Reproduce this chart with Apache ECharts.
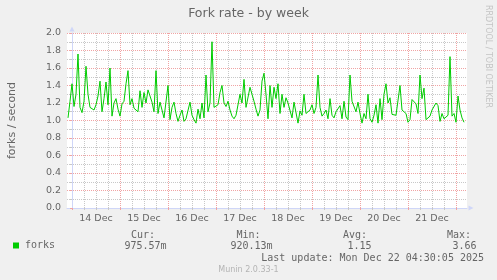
<!DOCTYPE html>
<html><head><meta charset="utf-8">
<script src="https://cdn.jsdelivr.net/npm/echarts@6/dist/echarts.min.js"></script>
<style>html,body{margin:0;padding:0;background:#f0f0f0}#c{width:497px;height:280px}</style>
</head><body><div id="c"></div>
<script>
// ---- data ----
const chartTitle = 'Fork rate - by week';
const yAxisName = 'forks / second';
const seriesName = 'forks';
// hours relative to 14 Dec 00:00 of the first hourly sample
const firstHour = -2;
const stepHours = 1;
const windowHours = 200;
const forkRate = [
  1.03,1.22,
  1.42,1.16,1.30,1.76,1.15,1.09,1.22,1.62,1.30,1.15,1.17,1.12,
  1.18,1.28,1.45,1.10,1.25,1.44,1.18,1.60,1.05,1.20,1.25,1.13,
  1.05,1.19,1.22,1.42,1.57,1.18,1.25,1.14,1.15,1.10,1.34,1.15,
  1.32,1.20,1.35,1.33,1.21,1.10,1.57,1.08,1.21,1.12,1.03,1.01,
  1.40,1.01,1.15,1.21,1.08,0.99,1.06,1.12,0.99,1.02,1.03,1.21,
  1.06,1.01,0.97,1.13,1.02,1.20,1.03,1.52,1.10,1.20,1.90,1.15,
  1.13,1.18,1.32,1.40,1.20,1.16,1.22,1.12,1.05,1.02,1.06,1.05,
  1.30,1.20,1.47,1.15,1.13,1.38,1.30,1.22,1.13,1.05,1.12,1.45,
  1.54,1.30,1.02,1.40,1.15,1.38,1.25,1.42,1.08,1.30,1.15,1.26,
  1.20,1.22,1.03,1.21,1.20,0.97,1.11,1.06,1.30,1.08,1.10,1.12,
  1.18,1.08,1.15,1.52,1.15,1.05,1.08,1.12,1.02,1.25,1.06,1.03,
  1.10,1.12,1.17,1.02,1.22,1.04,1.01,1.52,1.22,1.20,1.10,1.21,
  1.08,0.97,1.08,1.02,1.30,1.02,0.98,1.06,1.18,0.97,1.25,1.01,
  1.30,1.42,1.20,1.26,1.07,1.08,1.06,1.07,1.40,1.12,1.10,1.08,
  0.98,1.01,1.24,1.22,1.19,1.08,1.52,1.25,1.37,1.01,0.99,1.05,
  1.12,1.13,1.20,1.17,0.99,1.08,1.02,1.02,1.06,1.73,1.05,1.08,
  0.98,1.28,1.12,1.03,0.98
];
const dayLabels = ['14 Dec','15 Dec','16 Dec','17 Dec','18 Dec','19 Dec','20 Dec','21 Dec'];
const yTickValues = [0,0.2,0.4,0.6,0.8,1.0,1.2,1.4,1.6,1.8,2.0];
const statLabels = ['Cur:','Min:','Avg:','Max:'];
const statValues = ['975.57m','920.13m','1.15','3.66'];
const lastUpdate = 'Last update: Mon Dec 22 04:30:05 2025';
const footer = 'Munin 2.0.33-1';
const watermark = 'RRDTOOL / TOBI OETIKER';

// ---- derived ----
const xMin = firstHour - 0.5;
const xMax = xMin + windowHours;
const midnights = [], sixHours = [], noons = [];
for (let t = 0; t <= xMax; t += 6) {
  if (t % 24 === 0) midnights.push(t); else sixHours.push(t);
}
dayLabels.forEach((_, i) => noons.push(12 + 24 * i));
const seriesData = forkRate.map((v, i) => [firstHour + i * stepHours, v]);

const FONT = '#666666';
const AXIS = '#CFD6F8';
const MGRID = '#f0a4a4';
const GRID = '#c8c8c8';
const sans = 'DejaVu Sans';
const mono = 'DejaVu Sans Mono';

const chart = echarts.init(document.getElementById('c'), null, {renderer: 'canvas'});

const statX = [[131, 124.5], [236.5, 230.5], [343, 347.5], [447, 452.5]];
const graphics = [];
statLabels.forEach((s, i) => {
  graphics.push({type: 'text', x: statX[i][0], y: 235, style: {text: s, font: '10px "' + mono + '"', fill: FONT, align: 'left', verticalAlign: 'middle'}});
  graphics.push({type: 'text', x: statX[i][1], y: 246.5, style: {text: statValues[i], font: '10px "' + mono + '"', fill: FONT, align: 'left', verticalAlign: 'middle'}});
});
graphics.push({type: 'text', x: 484, y: 258, style: {text: lastUpdate, font: '10px "' + mono + '"', fill: FONT, align: 'right', verticalAlign: 'middle'}});
graphics.push({type: 'text', x: 248.5, y: 269.5, style: {text: footer, font: '8px "' + sans + '"', fill: '#b4b4b4', align: 'center', verticalAlign: 'middle'}});
graphics.push({type: 'text', x: 488.5, y: 56.5, rotation: -Math.PI / 2, style: {text: watermark, font: '8px "' + sans + '"', fill: '#c4c4c4', align: 'center', verticalAlign: 'middle'}});

const option = {
  animation: false,
  backgroundColor: '#f0f0f0',
  title: {text: chartTitle, left: 'center', top: 7, padding: 0,
    textStyle: {fontFamily: sans, fontSize: 12.5, fontWeight: 'normal', color: FONT}},
  legend: {show: true, left: 13, top: 240.5, padding: 0, icon: 'rect', itemWidth: 6, itemHeight: 6,
    selectedMode: false, data: [seriesName],
    textStyle: {fontFamily: mono, fontSize: 10, color: FONT, padding: [0, 0, 0, 1]}},
  grid: {left: 67, top: 33, width: 400, height: 175, show: true, backgroundColor: '#ffffff', borderWidth: 0,
    containLabel: false, outerBoundsMode: 'none'},
  xAxis: [
    {type: 'value', min: xMin, max: xMax, position: 'bottom',
      axisLine: {show: true, onZero: false, lineStyle: {color: AXIS, width: 1},
        symbol: ['none', 'triangle'], symbolSize: [5, 5], symbolOffset: [0, 4]},
      axisTick: {show: true, length: 2, customValues: midnights, lineStyle: {color: MGRID}},
      splitLine: {show: true, lineStyle: {color: MGRID, width: 1, type: [1, 1]}},
      axisLabel: {show: true, customValues: noons, margin: 5.5, fontFamily: sans, fontSize: 9.5, color: FONT,
        formatter: v => dayLabels[Math.round((v - 12) / 24)]}},
    {type: 'value', min: xMin, max: xMax, position: 'bottom',
      axisLine: {show: false, onZero: false},
      axisTick: {show: true, length: 2, customValues: sixHours, lineStyle: {color: GRID}},
      splitLine: {show: true, lineStyle: {color: GRID, width: 1, type: [1, 1]}},
      axisLabel: {show: false}}
  ],
  yAxis: {
    type: 'value', min: yTickValues[0], max: yTickValues[yTickValues.length - 1], interval: 0.2,
    axisLine: {show: true, lineStyle: {color: AXIS, width: 1},
      symbol: ['none', 'triangle'], symbolSize: [5, 5], symbolOffset: [0, 4]},
    axisTick: {show: true, length: 2, lineStyle: {color: MGRID}},
    minorTick: {show: true, splitNumber: 2, length: 2, lineStyle: {color: GRID}},
    splitLine: {show: true, lineStyle: {color: MGRID, width: 1, type: [1, 1]}},
    minorSplitLine: {show: true, lineStyle: {color: GRID, width: 1, type: [1, 1]}},
    axisLabel: {margin: 6, fontFamily: sans, fontSize: 9.5, color: FONT, formatter: v => v.toFixed(1)},
    name: yAxisName, nameLocation: 'middle', nameGap: 49,
    nameTextStyle: {fontFamily: sans, fontSize: 11, color: FONT}
  },
  graphic: graphics,
  series: [{
    name: seriesName, type: 'line', xAxisIndex: 0, yAxisIndex: 0,
    data: seriesData, showSymbol: false, symbol: 'none', z: 5,
    lineStyle: {color: '#00cc00', width: 1}, itemStyle: {color: '#00cc00'}
  }]
};
chart.setOption(option);
</script>
</body></html>
